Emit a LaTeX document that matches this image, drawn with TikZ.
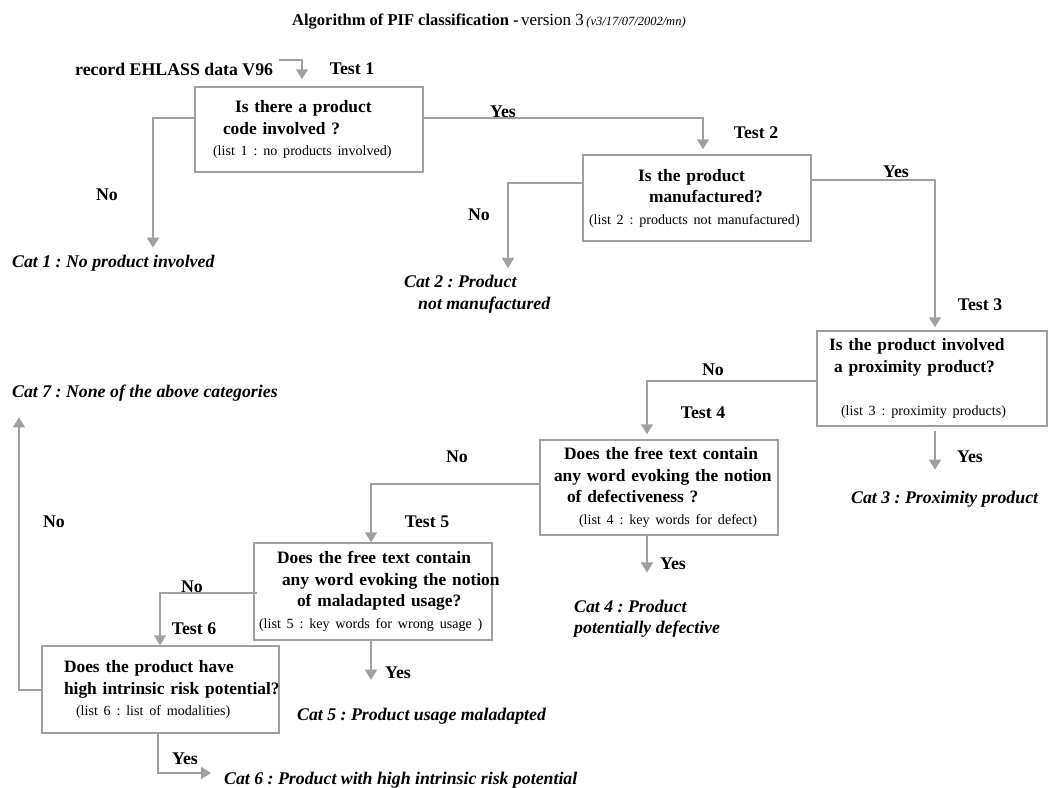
\documentclass[tikz,border=0pt]{standalone}
\usepackage{fontspec}
\setmainfont{Liberation Serif}
\usetikzlibrary{arrows.meta}
\setlength{\parindent}{0pt}
\frenchspacing
\hyphenpenalty=10000

\definecolor{linegray}{RGB}{160,160,160}
\newcommand{\qfont}{\fontsize{17.4}{21.5}\selectfont\bfseries}
\newcommand{\lblfont}{\fontsize{17.8}{21.5}\selectfont\bfseries}
\newcommand{\listfont}{\fontsize{14.1}{21.5}\selectfont\mdseries}

\tikzset{
	question/.style 2 args={draw=linegray, line width=1.5pt, align=left, text width=#1, minimum height=#2, inner xsep=0pt, inner ysep=0pt, font=\qfont},
	lbl/.style={font=\lblfont, inner sep=0pt},
	cat/.style={font=\lblfont\itshape, inner sep=0pt, align=left, anchor=west},
	flow/.style={draw=linegray, line width=1.5pt, -{Triangle[width=12pt,length=10pt]}},
}

\begin{document}
\begin{tikzpicture}[x=1pt, y=-1pt]
	\useasboundingbox (0,0) rectangle (1049,787);

	\node[anchor=west, inner sep=0pt] (title) at (292,22) {{\fontsize{16.5}{20}\selectfont\bfseries Algorithm of PIF classification -} {\fontsize{17}{20}\selectfont version 3} {\fontsize{12.5}{15}\selectfont\itshape (v3/17/07/2002/mn)}};
	\node[lbl, anchor=west] (rec) at (75,69) {record EHLASS data V96};

	% Test boxes
	\node[question={228pt}{85pt}] (t1) at (309,129.5) {\hspace*{40pt}Is there a product\\ \hspace*{28pt}code involved ?\\ \hspace*{18pt}{\listfont (list 1 : no products involved)}};
	\node[question={228pt}{86pt}] (t2) at (697,198) {\hspace*{55pt}Is the product\\ \hspace*{66pt}manufactured?\\ \mbox{\hspace*{6pt}\listfont (list 2 : products not manufactured)}};
	\node[question={230pt}{95pt}] (t3) at (932,378.5) {\hspace*{12pt}Is the product involved\\ \hspace*{17pt}a proximity product?\\[21.5pt] \hspace*{24pt}{\listfont (list 3 : proximity products)}};
	\node[question={238pt}{95pt}] (t4) at (659,487.5) {\hspace*{24pt}Does the free text contain\\ \hspace*{14pt}any word evoking the notion\\ \hspace*{27pt}of defectiveness ?\\ \hspace*{39pt}{\listfont (list 4 : key words for defect)}};
	\node[question={238pt}{97pt}] (t5) at (373,591.5) {\hspace*{23pt}Does the free text contain\\ \mbox{\hspace*{28pt}any word evoking the notion}\\ \hspace*{43pt}of maladapted usage?\\ \mbox{\hspace*{5pt}\listfont (list 5 : key words for wrong usage )}};
	\node[question={237pt}{87pt}] (t6) at (160.5,689.5) {\hspace*{22pt}Does the product have\\ \mbox{\hspace*{22pt}high intrinsic risk potential?}\\ \hspace*{34pt}{\listfont (list 6 : list of modalities)}};

	% Categories
	\node[cat] (c1) at (12,263) {Cat 1 : No product involved};
	\node[cat] (c2) at (404,294) {Cat 2 : Product\\ \hspace*{14pt}not manufactured};
	\node[cat] (c3) at (851,499) {Cat 3 : Proximity product};
	\node[cat] (c4) at (574,618.5) {Cat 4 : Product\\ potentially defective};
	\node[cat] (c5) at (297,716) {Cat 5 : Product usage maladapted};
	\node[cat] (c6) at (224,780) {Cat 6 : Product with high intrinsic risk potential};
	\node[cat] (c7) at (12,393) {Cat 7 : None of the above categories};

	% Labels
	\node[lbl] (n1) at (352,69) {Test 1};
	\node[lbl] (n2) at (756,133) {Test 2};
	\node[lbl] (n3) at (980,305) {Test 3};
	\node[lbl] (n4) at (703,413) {Test 4};
	\node[lbl] (n5) at (427,522) {Test 5};
	\node[lbl] (n6) at (194,629) {Test 6};
	\node[lbl] (y1) at (503,112) {Yes};
	\node[lbl] (y2) at (896,172) {Yes};
	\node[lbl] (y3) at (970,457) {Yes};
	\node[lbl] (y4) at (673,564) {Yes};
	\node[lbl] (y5) at (398,673) {Yes};
	\node[lbl] (y6) at (185,759) {Yes};
	\node[lbl] (o1) at (107,195) {No};
	\node[lbl] (o2) at (479,215) {No};
	\node[lbl] (o3) at (713,370) {No};
	\node[lbl] (o4) at (457,457) {No};
	\node[lbl] (o5) at (192,587) {No};
	\node[lbl] (o6) at (54,522) {No};

	% Draw the arrows between boxes
	\draw[flow, shorten <=6pt, shorten >=7pt] (rec.east |- 0,60) -| (t1.north -| 302,0);
	\draw[flow, shorten >=5pt] (t1.east |- 0,118) -| (t2.north -| 703,0);
	\draw[flow, shorten >=3pt] (t2.east |- 0,180) -| (t3.north -| 935,0);
	\draw[flow, shorten >=5pt] (t3.west |- 0,381) -| (t4.north -| 647,0);
	\draw[flow] (t4.west |- 0,484) -| (t5.north -| 371,0);
	\draw[flow, shorten <=-4pt] (t5.west |- 0,593) -| (t6.north -| 160,0);
	\draw[flow, shorten >=16pt] (t6.west |- 0,690) -| (c7.south -| 19,0);

	% Draw the arrows to the categories
	\draw[flow, shorten >=7pt] (t1.west |- 0,118) -| (c1.north -| 153,0);
	\draw[flow, shorten >=7pt] (t2.west |- 0,183) -| (c2.north -| 508,0);
	\draw[flow, shorten <=4pt, shorten >=21pt] (t3.south -| 935,0) -- (c3.north -| 935,0);
	\draw[flow, shorten >=27pt] (t4.south -| 647,0) -- (c4.north -| 647,0);
	\draw[flow, shorten >=28pt] (t5.south -| 371,0) -- (c5.north -| 371,0);
	\draw[flow, shorten >=13pt] (t6.south -| 158,0) |- (c6.west |- 0,773);
\end{tikzpicture}
\end{document}
